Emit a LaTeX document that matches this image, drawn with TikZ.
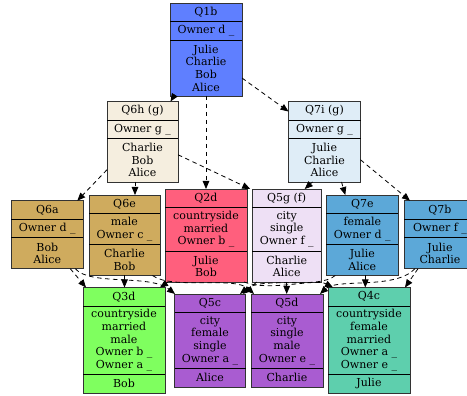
\documentclass[tikz,border=0pt]{standalone}
\usepackage{fontspec}
\setmainfont{DejaVu Serif}
\usetikzlibrary{arrows.meta}
\definecolor{cQa}{HTML}{5F7FFF}
\definecolor{cQb}{HTML}{F5EEDF}
\definecolor{cQc}{HTML}{DFEDF7}
\definecolor{cQd}{HTML}{CFAB5E}
\definecolor{cQe}{HTML}{FF5F7D}
\definecolor{cQf}{HTML}{EEE0F5}
\definecolor{cQg}{HTML}{5CA8D8}
\definecolor{cQh}{HTML}{7FFF5F}
\definecolor{cQi}{HTML}{A95CD1}
\definecolor{cQj}{HTML}{5ECFAD}
\tikzset{
  cbox/.style={draw=black!80, line width=0.8pt, inner sep=0pt, outer sep=0pt},
  divline/.style={draw=black, line width=0.8pt},
  ctxt/.style={align=center, inner sep=0pt, font=\fontsize{11}{12.6}\selectfont},
  edge/.style={draw=black, line width=0.8pt, dash pattern=on 4.5pt off 3.5pt, -{Triangle[length=8pt,width=6.5pt]}},
}
\newcommand\cbox[6]{\node[cbox, fill=#6, minimum width=#4pt, minimum height=#5pt, anchor=north] (#1) at (#2,#3) {};}
\newcommand\cdiv[2]{\draw[divline] ([yshift=-#2pt]#1.north west) -- ([yshift=-#2pt]#1.north east);}
\newcommand\ctext[3]{\node[ctxt] at ([yshift=-#2pt]#1.north) {#3};}
\begin{document}
\begin{tikzpicture}[x=1pt,y=-1pt]
\useasboundingbox (0,0) rectangle (467,396);
% row 1
\cbox{Q1b}{206}{3}{72}{93}{cQa}
\cdiv{Q1b}{18.5}\cdiv{Q1b}{37}
\ctext{Q1b}{9.25}{Q1b}\ctext{Q1b}{27.75}{Owner d \_}\ctext{Q1b}{65}{Julie\\Charlie\\Bob\\Alice}
% row 2
\cbox{Q6h}{142.5}{101.5}{71}{80.5}{cQb}
\cdiv{Q6h}{18.5}\cdiv{Q6h}{37}
\ctext{Q6h}{9.25}{Q6h (g)}\ctext{Q6h}{27.75}{Owner g \_}\ctext{Q6h}{58.75}{Charlie\\Bob\\Alice}
\cbox{Q7i}{324.5}{101.5}{72}{80.5}{cQc}
\cdiv{Q7i}{18.5}\cdiv{Q7i}{37}
\ctext{Q7i}{9.25}{Q7i (g)}\ctext{Q7i}{27.75}{Owner g \_}\ctext{Q7i}{58.75}{Julie\\Charlie\\Alice}
% row 3
\cbox{Q6a}{47.3}{200.7}{72}{68}{cQd}
\cdiv{Q6a}{18.5}\cdiv{Q6a}{37}
\ctext{Q6a}{9.25}{Q6a}\ctext{Q6a}{27.75}{Owner d \_}\ctext{Q6a}{52.5}{Bob\\Alice}
\cbox{Q6e}{124.5}{195}{71}{80.5}{cQd}
\cdiv{Q6e}{18.5}\cdiv{Q6e}{49.5}
\ctext{Q6e}{9.25}{Q6e}\ctext{Q6e}{34}{male\\Owner c \_}\ctext{Q6e}{65}{Charlie\\Bob}
\cbox{Q2d}{206}{189}{82}{93}{cQe}
\cdiv{Q2d}{18.5}\cdiv{Q2d}{62}
\ctext{Q2d}{9.25}{Q2d}\ctext{Q2d}{40.25}{countryside\\married\\Owner b \_}\ctext{Q2d}{77.5}{Julie\\Bob}
\cbox{Q5g}{286.7}{189}{69}{93}{cQf}
\cdiv{Q5g}{18.5}\cdiv{Q5g}{62}
\ctext{Q5g}{9.25}{Q5g (f)}\ctext{Q5g}{40.25}{city\\single\\Owner f \_}\ctext{Q5g}{77.5}{Charlie\\Alice}
\cbox{Q7e}{362.3}{195}{72}{80.5}{cQg}
\cdiv{Q7e}{18.5}\cdiv{Q7e}{49.5}
\ctext{Q7e}{9.25}{Q7e}\ctext{Q7e}{34}{female\\Owner d \_}\ctext{Q7e}{65}{Julie\\Alice}
\cbox{Q7b}{440}{200.7}{72}{68}{cQg}
\cdiv{Q7b}{18.5}\cdiv{Q7b}{37}
\ctext{Q7b}{9.25}{Q7b}\ctext{Q7b}{27.75}{Owner f \_}\ctext{Q7b}{52.5}{Julie\\Charlie}
% row 4
\cbox{Q3d}{124}{287.5}{82}{105.5}{cQh}
\cdiv{Q3d}{18.5}\cdiv{Q3d}{87}
\ctext{Q3d}{9.25}{Q3d}\ctext{Q3d}{52.75}{countryside\\married\\male\\Owner b \_\\Owner a \_}\ctext{Q3d}{96.25}{Bob}
\cbox{Q5c}{210}{294}{71}{93}{cQi}
\cdiv{Q5c}{18.5}\cdiv{Q5c}{74.5}
\ctext{Q5c}{9.25}{Q5c}\ctext{Q5c}{46.5}{city\\female\\single\\Owner a \_}\ctext{Q5c}{83.75}{Alice}
\cbox{Q5d}{287}{294}{72}{93}{cQi}
\cdiv{Q5d}{18.5}\cdiv{Q5d}{74.5}
\ctext{Q5d}{9.25}{Q5d}\ctext{Q5d}{46.5}{city\\single\\male\\Owner e \_}\ctext{Q5d}{83.75}{Charlie}
\cbox{Q4c}{369}{287.5}{82}{105.5}{cQj}
\cdiv{Q4c}{18.5}\cdiv{Q4c}{87}
\ctext{Q4c}{9.25}{Q4c}\ctext{Q4c}{52.75}{countryside\\female\\married\\Owner a \_\\Owner e \_}\ctext{Q4c}{96.25}{Julie}
% edges row1 -> row2/3
\draw[edge] ([xshift=-32pt]Q1b.south) -- ([xshift=28pt]Q6h.north);
\draw[edge] (Q1b.south) -- (Q2d.north);
\draw[edge] ([yshift=-28.5pt]Q1b.east) -- ([yshift=-10pt]Q7i.north west);
% row2 -> row3
\draw[edge] ([yshift=-28pt]Q6h.west) -- ([xshift=30pt]Q6a.north);
\draw[edge] ([xshift=-7.5pt]Q6h.south) -- ([xshift=10.5pt]Q6e.north);
\draw[edge] ([yshift=-13pt]Q6h.east) -- ([xshift=-2pt]Q5g.north west);
\draw[edge] ([xshift=-12pt]Q7i.south) -- ([xshift=18pt]Q5g.north);
\draw[edge] ([xshift=17pt]Q7i.south) -- ([xshift=-17pt]Q7e.north);
\draw[edge] ([yshift=-18pt]Q7i.east) -- ([xshift=-30pt]Q7b.north);
% row3 -> row4
\draw[edge] ([xshift=23pt]Q6a.south) -- ([xshift=-38pt]Q3d.north);
\draw[edge] (Q6e.south) -- (Q6e.south |- Q3d.north);
\draw[edge] ([xshift=-38pt]Q2d.south) -- ([xshift=36pt]Q3d.north);
\draw[edge] ([xshift=28pt]Q6a.south) .. controls (90,286) and (150,274) .. ([xshift=-35pt]Q5c.north);
\draw[edge] ([xshift=-30pt]Q5g.south) -- ([xshift=33pt]Q5c.north);
\draw[edge] ([xshift=-27pt]Q7e.south) .. controls (318,290) and (262,276) .. ([xshift=30pt]Q5c.north);
\draw[edge] ([xshift=28pt]Q6e.south) .. controls (172,290) and (235,276) .. ([xshift=-33pt]Q5d.north);
\draw[edge] (Q5g.south) -- (Q5g.south |- Q5d.north);
\draw[edge] ([xshift=-25pt]Q7b.south) .. controls (395,290) and (337,278) .. ([xshift=33pt]Q5d.north);
\draw[edge] ([xshift=38pt]Q2d.south) .. controls (270,292) and (315,278) .. ([xshift=-36pt]Q4c.north);
\draw[edge] ([xshift=3pt]Q7e.south) -- ([xshift=3pt]Q7e.south |- Q4c.north);
\draw[edge] ([xshift=-22pt]Q7b.south) -- ([xshift=36pt]Q4c.north);
\end{tikzpicture}
\end{document}
